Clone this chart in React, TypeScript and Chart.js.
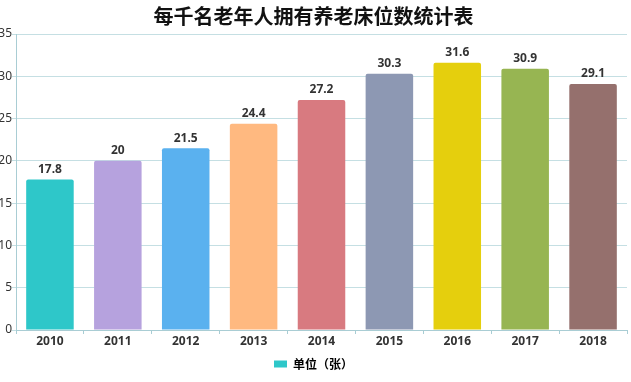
import React, { useEffect, useRef } from "react";
import { Chart, registerables } from "chart.js";

Chart.register(...registerables);

const years = ["2010", "2011", "2012", "2013", "2014", "2015", "2016", "2017", "2018"];
const beds = [17.8, 20, 21.5, 24.4, 27.2, 30.3, 31.6, 30.9, 29.1];
const barColors = ["#2ec7c9", "#b6a2de", "#5ab1ef", "#ffb980", "#d87a80", "#8d98b3", "#e5cf0d", "#97b552", "#95706d"];
const seriesName = "单位（张）";
const titleText = "每千名老年人拥有养老床位数统计表";

const labelPlugin = {
  id: "barLabels",
  afterDatasetsDraw(chart: any) {
    const ctx = chart.ctx;
    const meta = chart.getDatasetMeta(0);
    ctx.save();
    ctx.font = "bold 12px 'Noto Sans', 'Noto Sans CJK SC', sans-serif";
    ctx.fillStyle = "#333";
    ctx.textAlign = "center";
    ctx.textBaseline = "bottom";
    meta.data.forEach((el: any, i: number) => {
      ctx.fillText(String(beds[i]), el.x, el.y - 4);
    });
    ctx.restore();
  },
};

export default function App() {
  const ref = useRef<HTMLCanvasElement>(null);
  useEffect(() => {
    document.body.style.margin = "0";
    const chart = new Chart(ref.current!, {
      type: "bar",
      data: {
        labels: years,
        datasets: [
          {
            label: seriesName,
            data: beds,
            backgroundColor: barColors,
            borderRadius: 2,
            borderSkipped: "bottom",
            categoryPercentage: 0.7,
            barPercentage: 1,
          },
        ],
      },
      options: {
        animation: false,
        responsive: false,
        layout: { padding: { left: 0, right: 4, top: 0, bottom: 2 } },
        plugins: {
          title: {
            display: true,
            text: titleText,
            color: "#111",
            font: { size: 20, weight: "bold", family: "'Noto Sans CJK SC', sans-serif" },
            padding: { top: 4, bottom: 6 },
          },
          legend: {
            position: "bottom",
            labels: {
              generateLabels: () => [
                {
                  text: seriesName,
                  fillStyle: barColors[0],
                  strokeStyle: barColors[0],
                  lineWidth: 0,
                  hidden: false,
                  datasetIndex: 0,
                } as any,
              ],
              boxWidth: 13,
              boxHeight: 7,
              color: "#333",
              font: { size: 12, weight: "bold", family: "'Noto Sans CJK SC', sans-serif" },
              padding: 8,
            },
          },
          tooltip: { enabled: false },
        },
        scales: {
          x: {
            grid: { display: true, drawOnChartArea: false, drawTicks: true, tickLength: 4, color: "#a9cdd4" },
            border: { color: "#a9cdd4" },
            ticks: {
              color: "#333",
              font: { size: 12, weight: "bold", family: "'Noto Sans', sans-serif" },
              padding: 0,
            },
            afterFit: (s: any) => {
              s.height = 20;
            },
          },
          y: {
            min: 0,
            max: 35,
            ticks: {
              stepSize: 5,
              color: "#333",
              font: { size: 12, family: "'Noto Sans', sans-serif" },
              padding: 0,
            },
            grid: { color: "#c5dfe3", tickLength: 4 },
            border: { color: "#a9cdd4" },
            afterFit: (s: any) => {
              s.width = 16;
            },
          },
        },
      },
      plugins: [labelPlugin],
    });
    return () => chart.destroy();
  }, []);
  return <canvas ref={ref} width={631} height={382} style={{ display: "block" }} />;
}
